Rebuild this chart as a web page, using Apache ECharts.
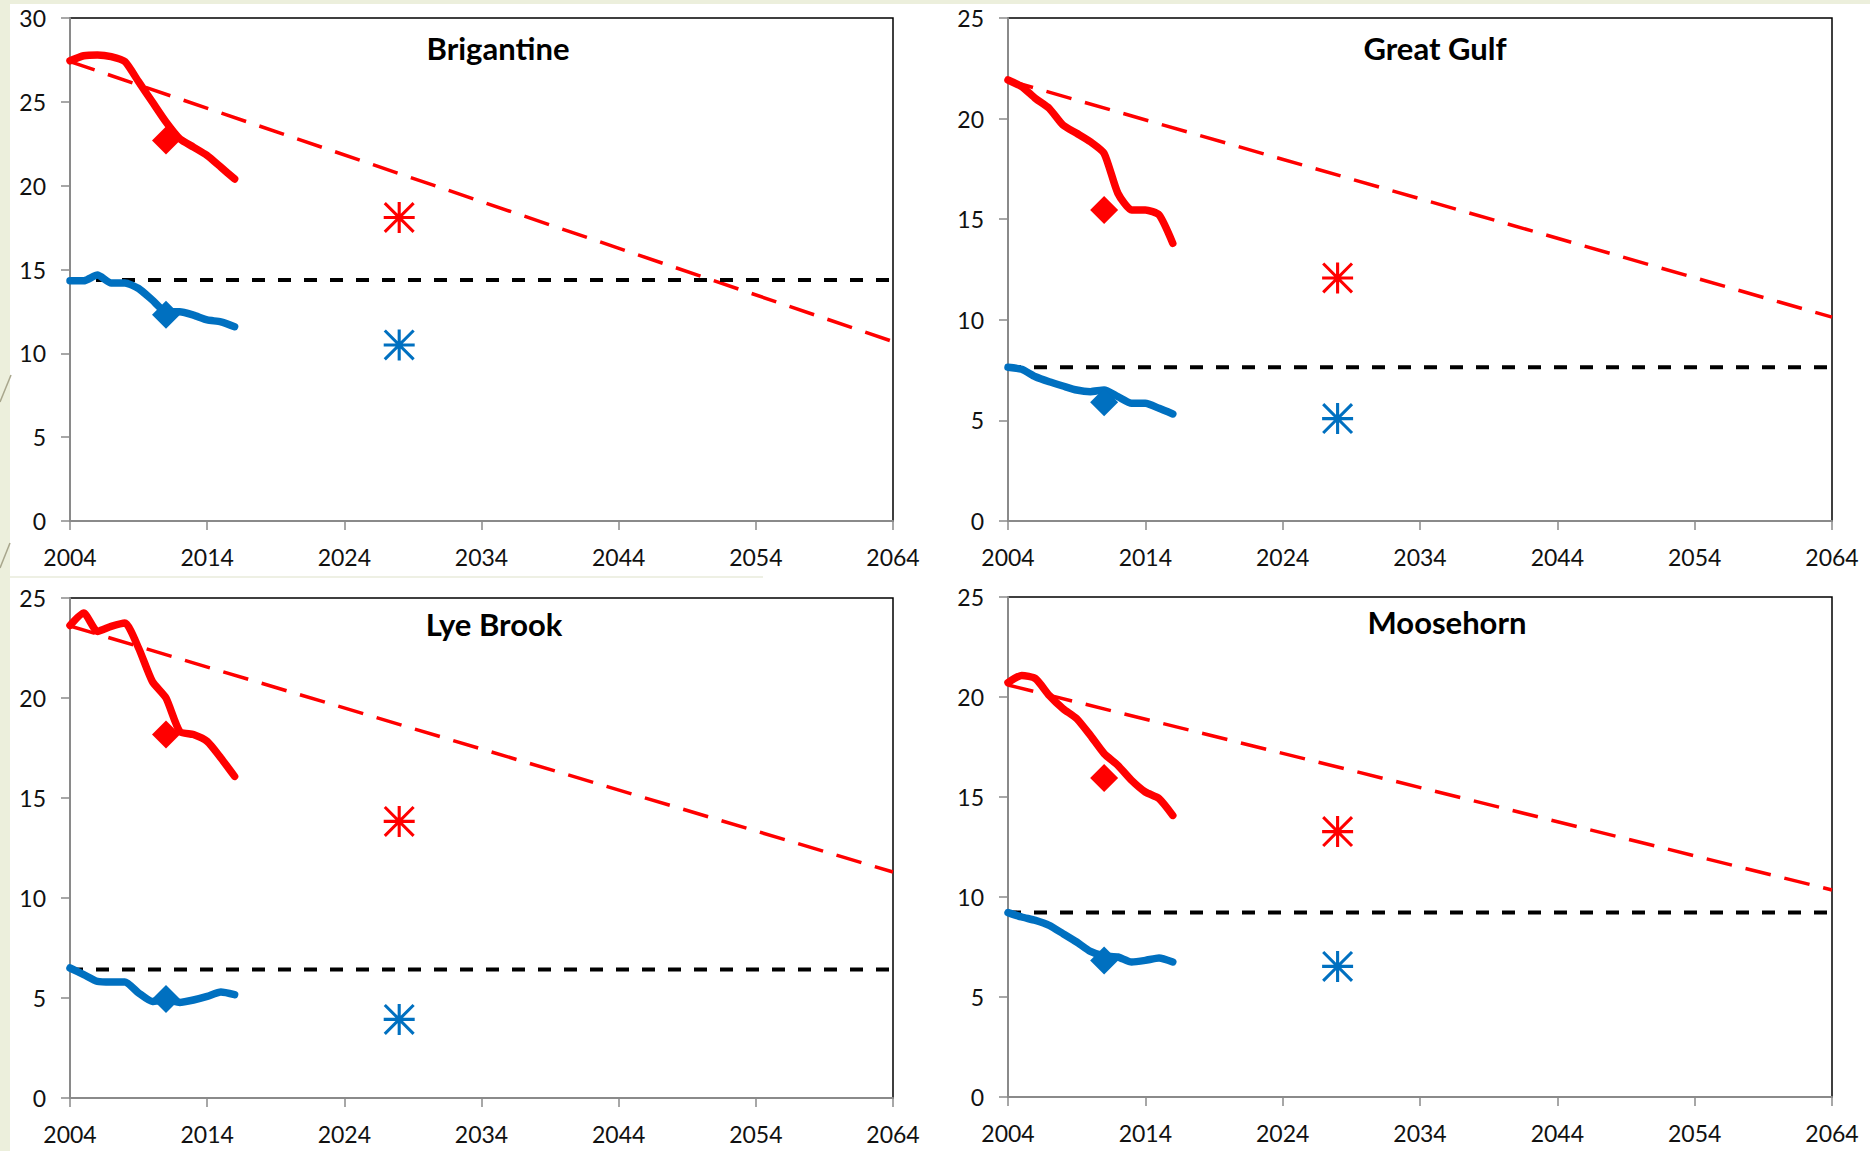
<!DOCTYPE html>
<html><head><meta charset="utf-8">
<script src="https://cdn.jsdelivr.net/npm/echarts@6/dist/echarts.min.js"></script>
<style>
html,body{margin:0;padding:0;width:1870px;height:1151px;overflow:hidden;background:#ECEFDC;}
#bg{position:absolute;left:10px;top:4px;right:0;bottom:0;background:#fff;}
#chart{position:absolute;left:0;top:0;width:1870px;height:1151px;}
</style></head><body>
<div id="bg"></div><div id="chart"></div>
<script>
// ---- data ----
const years = [2004,2005,2006,2007,2008,2009,2010,2011,2012,2013,2014,2015,2016];
const trendYears = [2004, 2064];
const diamondYear = 2011;
const starYear = 2028;
const xMin = 2004, xMax = 2064, xStep = 10;
const panelNames = ['Brigantine', 'Great Gulf', 'Lye Brook', 'Moosehorn'];
const yMaxes = [30, 25, 25, 25];

const brigantineRed   = [27.45,27.75,27.8,27.7,27.4,26.2,25.0,23.8,22.8,22.3,21.8,21.1,20.4];
const brigantineBlue  = [14.33,14.33,14.67,14.2,14.2,13.87,13.18,12.48,12.48,12.28,11.99,11.88,11.59];
const brigantineTrend = [27.4, 10.7];
const brigantineLevel = 14.37;
const brigantineDiamonds = [22.7, 12.3];
const brigantineStars    = [18.1, 10.5];

const greatGulfRed   = [21.92,21.59,21.0,20.51,19.68,19.27,18.85,18.27,16.29,15.46,15.46,15.21,13.8];
const greatGulfBlue  = [7.64,7.54,7.17,6.92,6.71,6.51,6.43,6.51,6.18,5.85,5.85,5.6,5.32];
const greatGulfTrend = [21.9, 10.13];
const greatGulfLevel = 7.64;
const greatGulfDiamonds = [15.46, 5.9];
const greatGulfStars    = [12.08, 5.09];

const lyeBrookRed   = [23.63,24.25,23.33,23.58,23.75,22.5,20.83,20.0,18.33,18.17,17.83,17.0,16.08];
const lyeBrookBlue  = [6.5,6.17,5.83,5.8,5.8,5.25,4.83,4.9,4.78,4.9,5.08,5.3,5.17];
const lyeBrookTrend = [23.6, 11.3];
const lyeBrookLevel = 6.42;
const lyeBrookDiamonds = [18.17, 4.95];
const lyeBrookStars    = [13.83, 3.93];

const moosehornRed   = [20.72,21.08,20.92,20.08,19.42,18.92,18.08,17.17,16.58,15.83,15.25,14.92,14.08];
const moosehornBlue  = [9.22,9.0,8.83,8.58,8.17,7.75,7.28,7.05,7.0,6.75,6.83,6.95,6.75];
const moosehornTrend = [20.6, 10.35];
const moosehornLevel = 9.23;
const moosehornDiamonds = [15.95, 6.83];
const moosehornStars    = [13.27, 6.53];

// ---- layout / style ----
const RED = '#FF0000', BLUE = '#0070C0';
const FONT = 'Lato, "Open Sans", sans-serif';
const grids = [
  {left:70,  top:18,  width:823, height:503},
  {left:1008,top:18,  width:824, height:503},
  {left:70,  top:598, width:823, height:500},
  {left:1008,top:597, width:824, height:500}
];
const titlePos = [[498,32],[1435,32],[494,608],[1447,606]];
const STAR = 'path://M45 0L55 0L55 100L45 100Z M0 45L100 45L100 55L0 55Z M7 0L100 93L93 100L0 7Z M93 0L100 7L7 100L0 93Z';

const panels = [
  {red:brigantineRed, blue:brigantineBlue, trend:brigantineTrend, level:brigantineLevel, dia:brigantineDiamonds, star:brigantineStars},
  {red:greatGulfRed, blue:greatGulfBlue, trend:greatGulfTrend, level:greatGulfLevel, dia:greatGulfDiamonds, star:greatGulfStars},
  {red:lyeBrookRed, blue:lyeBrookBlue, trend:lyeBrookTrend, level:lyeBrookLevel, dia:lyeBrookDiamonds, star:lyeBrookStars},
  {red:moosehornRed, blue:moosehornBlue, trend:moosehornTrend, level:moosehornLevel, dia:moosehornDiamonds, star:moosehornStars}
];

function pts(xs, ys){ return xs.map((x,i)=>[x, ys[i]]); }

const series = [];
panels.forEach((d,i)=>{
  const ax = {xAxisIndex:i, yAxisIndex:i, silent:true, animation:false};
  series.push(Object.assign({type:'line', data:pts(trendYears, d.trend), symbol:'none', z:2,
    lineStyle:{color:RED, width:3.5, type:[26,14]}}, ax));
  series.push(Object.assign({type:'line', data:pts(trendYears, [d.level, d.level]), symbol:'none', z:2,
    lineStyle:{color:'#000', width:4, type:[13,13]}}, ax));
  series.push(Object.assign({type:'line', data:pts(years, d.red), symbol:'none', smooth:0.2, z:3,
    lineStyle:{color:RED, width:7.5, cap:'round', join:'round'}}, ax));
  series.push(Object.assign({type:'line', data:pts(years, d.blue), symbol:'none', smooth:0.2, z:3,
    lineStyle:{color:BLUE, width:7.5, cap:'round', join:'round'}}, ax));
  series.push(Object.assign({type:'scatter', data:[[diamondYear, d.dia[0]]], symbol:'diamond', symbolSize:28, z:4,
    itemStyle:{color:RED, opacity:1}}, ax));
  series.push(Object.assign({type:'scatter', data:[[diamondYear, d.dia[1]]], symbol:'diamond', symbolSize:28, z:4,
    itemStyle:{color:BLUE, opacity:1}}, ax));
  series.push(Object.assign({type:'scatter', data:[[starYear, d.star[0]]], symbol:STAR, symbolSize:31, z:4,
    itemStyle:{color:RED, opacity:1}}, ax));
  series.push(Object.assign({type:'scatter', data:[[starYear, d.star[1]]], symbol:STAR, symbolSize:31, z:4,
    itemStyle:{color:BLUE, opacity:1}}, ax));
});

const axisLabelStyle = {color:'#111', fontSize:23, fontFamily:FONT};
const option = {
  animation:false,
  backgroundColor:'transparent',
  title: panelNames.map((n,i)=>({text:n, left:titlePos[i][0], top:titlePos[i][1], textAlign:'center', padding:0,
    textStyle:{fontSize:31, fontWeight:'bold', fontFamily:FONT, color:'#000'}})),
  grid: grids.map(g=>Object.assign({show:true, backgroundColor:'#fff', borderColor:'#000', borderWidth:1.5, containLabel:false}, g)),
  xAxis: grids.map((g,i)=>({gridIndex:i, type:'value', min:xMin, max:xMax, interval:xStep,
    axisLine:{show:true, onZero:false, lineStyle:{color:'#8a8a8a', width:2}},
    axisTick:{show:true, inside:false, length:9, lineStyle:{color:'#8a8a8a', width:1.5}},
    axisLabel:{margin:24, ...axisLabelStyle, formatter:v=>String(v)},
    splitLine:{show:false}})),
  yAxis: grids.map((g,i)=>({gridIndex:i, type:'value', min:0, max:yMaxes[i], interval:5,
    axisLine:{show:true, onZero:false, lineStyle:{color:'#8a8a8a', width:2}},
    axisTick:{show:true, inside:false, length:9, lineStyle:{color:'#8a8a8a', width:1.5}},
    axisLabel:{margin:24, ...axisLabelStyle},
    splitLine:{show:false}})),
  graphic: [
    {type:'rect', shape:{x:10, y:576, width:753, height:2}, style:{fill:'#EEF0E4'}, silent:true},
    {type:'line', shape:{x1:0, y1:402, x2:11, y2:375}, style:{stroke:'#A8A68C', lineWidth:1.5}, silent:true},
    {type:'line', shape:{x1:0, y1:568, x2:10, y2:543}, style:{stroke:'#A8A68C', lineWidth:1.5}, silent:true}
  ],
  series: series
};
const chart = echarts.init(document.getElementById('chart'), null, {renderer:'svg', width:1870, height:1151});
chart.setOption(option);
</script>
</body></html>
